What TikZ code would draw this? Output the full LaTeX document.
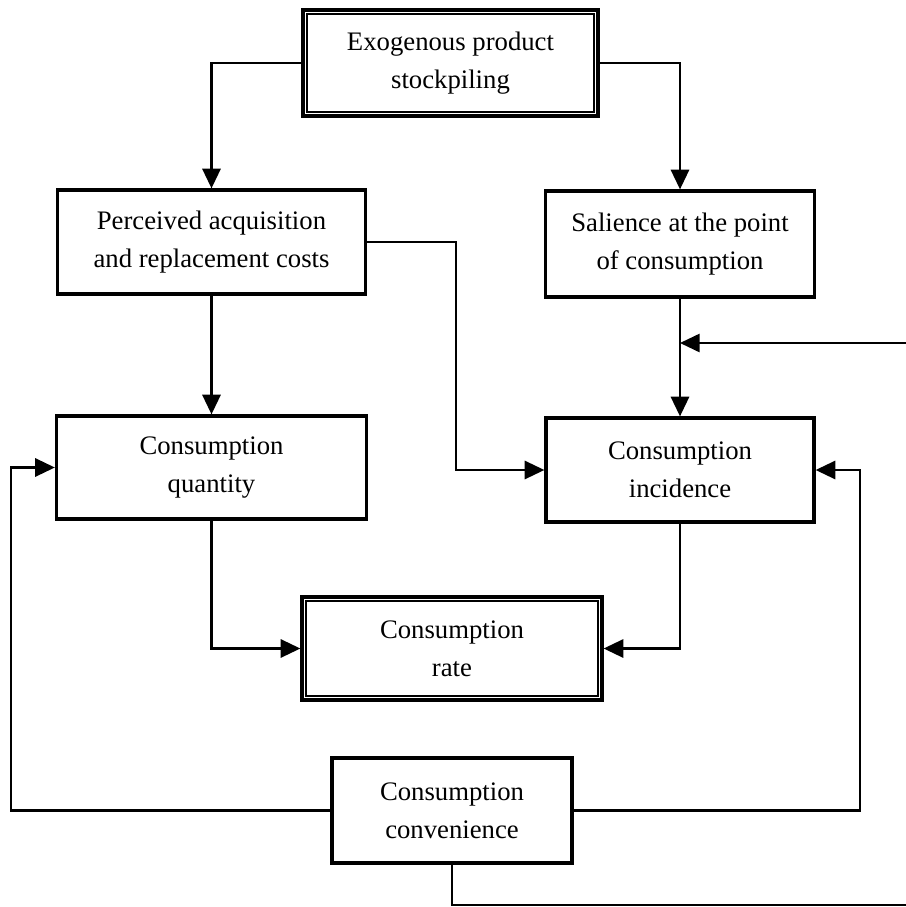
\documentclass[tikz,border=0pt]{standalone}
\usepackage{fontspec}
\setmainfont{Liberation Serif}
\usetikzlibrary{arrows.meta, calc}

\tikzset{
	box/.style = {draw, line width=2.3pt, align=center, inner sep=0pt, font=\fontsize{19}{27}\selectfont},
	innerline/.style = {line width=1.3pt},
}

\begin{document}
\begin{tikzpicture}[x=0.025cm, y=-0.025cm]
		\useasboundingbox (0,0) rectangle (906,907);

		\node [box, minimum width=7.375cm, minimum height=2.65cm] (stock) at (450.5,63) {Exogenous product\\stockpiling};
		\node [box, minimum width=7.7cm, minimum height=2.6cm] (perc) at (211.5,242) {Perceived acquisition\\and replacement costs};
		\node [box, minimum width=6.725cm, minimum height=2.65cm] (sal) at (680,244) {Salience at the point\\of consumption};
		\node [box, minimum width=7.75cm, minimum height=2.575cm] (qty) at (211.5,467.5) {Consumption\\quantity};
		\node [box, minimum width=6.7cm, minimum height=2.6cm] (inc) at (680,470) {Consumption\\incidence};
		\node [box, minimum width=7.5cm, minimum height=2.575cm] (rate) at (452,648.5) {Consumption\\rate};
		\node [box, minimum width=6cm, minimum height=2.625cm] (conv) at (452,810.5) {Consumption\\convenience};

		\foreach \n in {stock, rate}
			\draw [innerline] ($(\n.north west)+(6,6)$) rectangle ($(\n.south east)+(-6,-6)$);

		\coordinate (loopR) at (906,343);
		\coordinate (loopB) at (906,905);

		\begin{scope}[line width=1.5pt, -{Triangle[length=14pt, width=13pt]}]
			\draw (stock.west) -| (perc.north);
			\draw (stock.east) -| (sal.north);
			\draw (perc.south) -- (qty.north);
			\draw (sal.south) -- (inc.north);
			\draw (perc.east) -| ($(perc.east)!.5!(inc.west)$) |- (inc.west);
			\draw (loopR) -- (loopR -| sal.south);
			\draw (qty.south) |- (rate.west);
			\draw (inc.south) |- (rate.east);
			\draw (conv.west) -| ($(qty.west)+(-44,0)$) -- (qty.west);
			\draw (conv.east) -| ($(inc.east)+(44,0)$) -- (inc.east);
			\draw [-] (conv.south) |- (loopB);
		\end{scope}
	\end{tikzpicture}
\end{document}
